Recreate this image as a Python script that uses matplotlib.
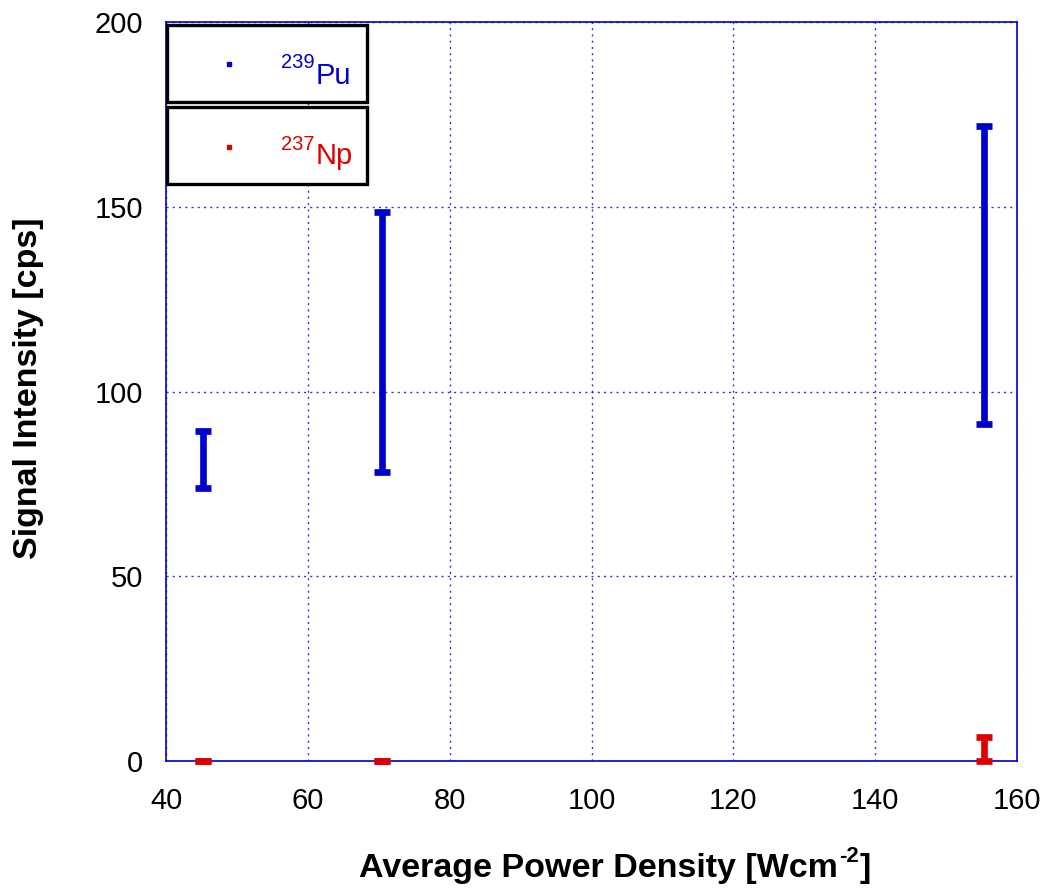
import matplotlib
matplotlib.use("Agg")
import matplotlib.pyplot as plt
from matplotlib.patches import Rectangle
import numpy as np

plt.rcParams['font.family'] = ['Liberation Sans', 'DejaVu Sans']

# Data (ranges of signal intensity)
power_density = [45.2, 70.5, 155.4]
pu_low = [74.0, 78.2, 91.2]
pu_high = [89.3, 148.6, 171.9]
np_low = [0.0, 0.0, 0.0]
np_high = [0.0, 0.0, 6.6]

x_ticks = [40, 60, 80, 100, 120, 140, 160]
y_ticks = [0, 50, 100, 150, 200]

blue = '#0000CC'
red = '#DD0000'

W, H = 1044, 888
fig = plt.figure(figsize=(W / 100, H / 100), dpi=100)
ax = fig.add_axes([166 / W, 1 - 761 / H, 851 / W, 739 / H])


def P(x, y):
    return x / W, 1 - y / H


def draw(xs, lo, hi, color):
    lo = np.array(lo); hi = np.array(hi)
    mid = (lo + hi) / 2
    err = (hi - lo) / 2
    ax.errorbar(xs, mid, yerr=err, fmt='none', ecolor=color, elinewidth=4.8,
                capsize=6.0, capthick=4.8, zorder=4, clip_on=False)


draw(power_density, pu_low, pu_high, blue)
draw(power_density, np_low, np_high, red)

ax.set_xlim(40, 160)
ax.set_ylim(0, 200)
ax.set_xticks(x_ticks)
ax.set_yticks(y_ticks)
ax.tick_params(axis='both', length=0, labelsize=21, colors='black')
ax.tick_params(axis='x', pad=19)
ax.tick_params(axis='y', pad=16.5)
ax.grid(True, color=blue, linestyle=(0, (1.5, 3)), linewidth=1.0, alpha=0.8)
for s in ax.spines.values():
    s.set_color(blue)
    s.set_linewidth(1.2)

# Axis labels
fig.text(*P(29, 388), 'Signal Intensity [cps]', rotation=90, ha='center', va='center',
         fontsize=24.5, fontweight='bold')

fig.canvas.draw()
renderer = fig.canvas.get_renderer()
main = 'Average Power Density [Wcm'
t_main = fig.text(0, 0, main, fontsize=24.5, fontweight='bold', ha='left', va='baseline')
t_sup = fig.text(0, 0, '-2', fontsize=16, fontweight='bold', ha='left', va='baseline')
t_end = fig.text(0, 0, ']', fontsize=24.5, fontweight='bold', ha='left', va='baseline')
w_main = t_main.get_window_extent(renderer).width
w_sup = t_sup.get_window_extent(renderer).width
w_end = t_end.get_window_extent(renderer).width
total = w_main + w_sup + w_end + 2
x0 = 615 - total / 2
base = 877
t_main.set_position(P(x0, base))
t_sup.set_position(P(x0 + w_main + 1, base - 15))
t_end.set_position(P(x0 + w_main + w_sup + 2, base))

# Legend boxes
trans = ax.transAxes
boxes = [(25, 102), (107, 184)]
entries = [('239', 'Pu', blue, 64, 68, 84), ('237', 'Np', red, 147, 150, 164)]
for (ytop, ybot), (sup, name, col, my, sy, by) in zip(boxes, entries):
    x_a, y_a = P(167, ybot)
    x_b, y_b = P(367, ytop)
    fig.patches.append(Rectangle((x_a, y_a), x_b - x_a, y_b - y_a,
                                 transform=fig.transFigure, facecolor='white',
                                 edgecolor='black', linewidth=2.4, zorder=6))
    fig.lines.append(plt.Line2D([P(229, my)[0]], [P(229, my)[1]], marker='s',
                                markersize=3.5, color=col, transform=fig.transFigure,
                                zorder=7))
    fig.text(*P(281, sy), sup, color=col, fontsize=14.5, ha='left', va='baseline', zorder=8)
    fig.text(*P(316, by), name, color=col, fontsize=21, ha='left', va='baseline', zorder=8)

fig.savefig('out.png', dpi=100)
